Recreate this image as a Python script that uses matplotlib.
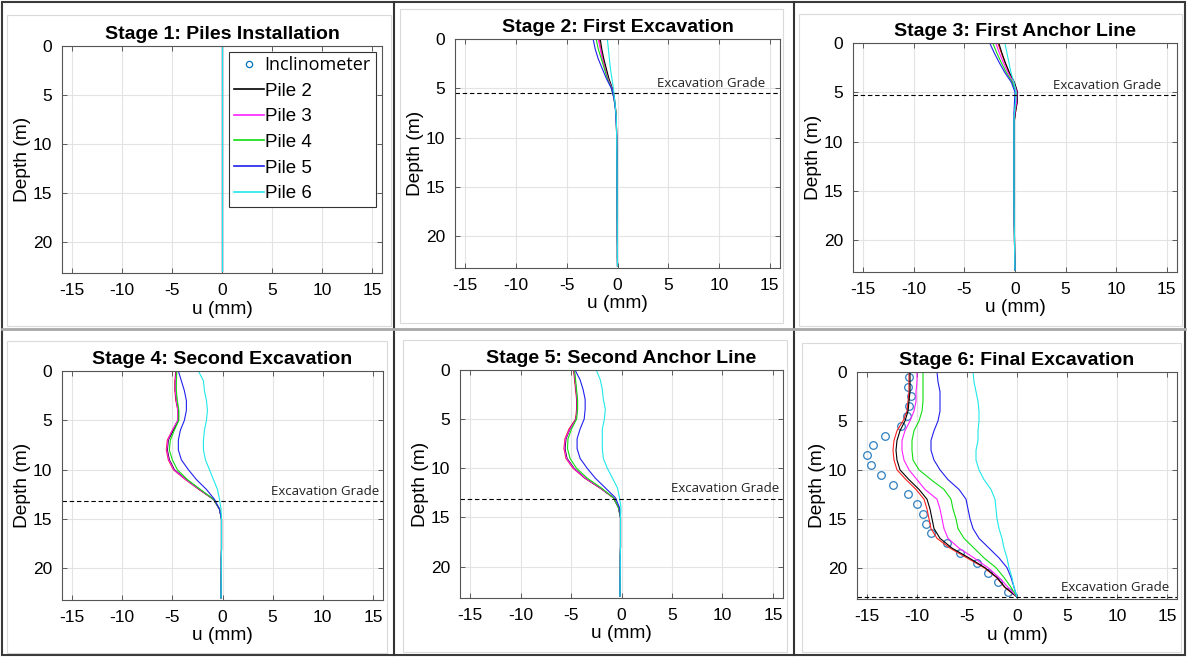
import matplotlib
matplotlib.use('Agg')
import matplotlib.pyplot as plt
from matplotlib.lines import Line2D
from matplotlib.patches import Rectangle

plt.rcParams['font.family'] = ['Liberation Sans', 'DejaVu Sans']
plt.rcParams['axes.unicode_minus'] = False

# ---- data -------------------------------------------------------------
depth = list(range(24))  # 0 .. 23 m

titles = ['Stage 1: Piles Installation', 'Stage 2: First Excavation',
          'Stage 3: First Anchor Line', 'Stage 4: Second Excavation',
          'Stage 5: Second Anchor Line', 'Stage 6: Final Excavation']
pile_labels = ['_nolegend_', 'Pile 2', 'Pile 3', 'Pile 4', 'Pile 5', 'Pile 6']
pile_colors = ['#ff2020', '#000000', '#ff20ff', '#10dd10', '#2020ee', '#20e8e8']

# excavation grade depth (m) for stages 2..6
grade_depth = [None, 5.5, 5.3, 13.2, 13.1, 23.0]

# stage 1: no displacement yet
zero = [0.0] * 24
stage1 = [zero, zero, zero, zero, zero, zero]

s2_tail = [-0.1, -0.08, -0.07, -0.06, -0.05, -0.05, -0.04, -0.04,
           -0.03, -0.03, -0.02, -0.02, -0.01, -0.01, 0.0]
stage2 = [
    [-1.8, -1.65, -1.45, -1.2, -0.9, -0.55, -0.35, -0.2, -0.12] + s2_tail,
    [-1.7, -1.55, -1.35, -1.1, -0.85, -0.5, -0.3, -0.2, -0.12] + s2_tail,
    [-1.9, -1.7, -1.5, -1.25, -0.95, -0.55, -0.35, -0.2, -0.12] + s2_tail,
    [-2.1, -1.9, -1.6, -1.3, -1.0, -0.6, -0.35, -0.2, -0.12] + s2_tail,
    [-2.4, -2.2, -1.9, -1.5, -1.1, -0.6, -0.35, -0.22, -0.15] + s2_tail,
    [-1.0, -0.9, -0.8, -0.7, -0.55, -0.4, -0.3, -0.2, -0.12] + s2_tail,
]

s3_tail = [-0.1, -0.1, -0.1, -0.1, -0.1, -0.1, -0.1, -0.08, -0.08,
           -0.06, -0.05, -0.04, -0.02, 0.0]
stage3 = [
    [-1.7, -1.35, -1.0, -0.6, -0.1, 0.25, 0.2, 0.05, -0.08, -0.1] + s3_tail,
    [-1.6, -1.3, -0.95, -0.55, -0.05, 0.25, 0.22, 0.05, -0.08, -0.1] + s3_tail,
    [-1.9, -1.55, -1.15, -0.7, -0.15, 0.2, 0.15, 0.0, -0.1, -0.1] + s3_tail,
    [-2.2, -1.8, -1.35, -0.85, -0.25, 0.1, 0.05, -0.05, -0.1, -0.1] + s3_tail,
    [-2.5, -2.05, -1.55, -1.0, -0.35, 0.0, -0.05, -0.1, -0.1, -0.1] + s3_tail,
    [-1.0, -0.8, -0.6, -0.4, -0.1, 0.1, 0.05, -0.05, -0.1, -0.1] + s3_tail,
]

deep_tail = [-0.1, -0.1, -0.1, -0.1, -0.12, -0.12, -0.13, -0.14, -0.15]
stage4 = [
    [-4.65, -4.75, -4.75, -4.65, -4.45, -4.45, -5.0, -5.5, -5.6, -5.4, -4.9, -3.7, -2.35, -0.9, -0.3] + deep_tail,
    [-4.6, -4.7, -4.7, -4.6, -4.4, -4.4, -4.9, -5.4, -5.5, -5.3, -4.8, -3.6, -2.3, -0.9, -0.3] + deep_tail,
    [-4.6, -4.7, -4.7, -4.6, -4.45, -4.45, -5.0, -5.45, -5.55, -5.35, -4.85, -3.65, -2.3, -0.9, -0.3] + deep_tail,
    [-4.55, -4.6, -4.6, -4.5, -4.35, -4.35, -4.8, -5.2, -5.3, -5.0, -4.5, -3.5, -2.2, -0.9, -0.3] + deep_tail,
    [-4.4, -4.1, -3.8, -3.6, -3.6, -3.8, -4.2, -4.4, -4.4, -4.1, -3.4, -2.6, -1.6, -0.8, -0.3] + deep_tail,
    [-2.4, -1.9, -1.8, -1.6, -1.5, -1.6, -1.8, -1.9, -1.9, -1.7, -1.3, -0.9, -0.5, -0.3, -0.15] + deep_tail,
]

stage5 = [
    [-4.75, -4.65, -4.55, -4.45, -4.45, -4.55, -5.2, -5.6, -5.7, -5.5, -4.8, -3.65, -2.15, -0.8, -0.3] + deep_tail,
    [-4.7, -4.6, -4.5, -4.4, -4.4, -4.5, -5.1, -5.5, -5.6, -5.4, -4.7, -3.6, -2.1, -0.8, -0.3] + deep_tail,
    [-4.7, -4.6, -4.5, -4.4, -4.4, -4.5, -5.1, -5.55, -5.65, -5.45, -4.75, -3.6, -2.1, -0.8, -0.3] + deep_tail,
    [-4.65, -4.55, -4.45, -4.35, -4.35, -4.45, -4.95, -5.3, -5.35, -5.1, -4.45, -3.4, -2.0, -0.8, -0.3] + deep_tail,
    [-4.6, -4.1, -3.8, -3.6, -3.6, -3.7, -4.1, -4.4, -4.4, -4.1, -3.4, -2.6, -1.6, -0.6, -0.2] + deep_tail,
    [-2.5, -2.1, -1.9, -1.8, -1.6, -1.7, -1.9, -1.9, -1.9, -1.8, -1.4, -0.9, -0.4, -0.2, -0.05] + deep_tail,
]

stage6 = [
    [-10.8, -10.8, -10.8, -10.9, -11.0, -11.4, -12.0, -12.3, -12.4, -12.3, -12.0, -11.1,
     -10.1, -9.3, -9.0, -8.8, -8.6, -8.0, -6.7, -5.0, -3.3, -2.05, -1.25, 0.0],
    [-10.7, -10.7, -10.7, -10.8, -10.9, -11.2, -11.7, -12.0, -12.1, -12.0, -11.7, -10.8,
     -9.8, -9.0, -8.7, -8.5, -8.3, -7.7, -6.5, -4.8, -3.2, -2.0, -1.2, 0.0],
    [-10.0, -10.0, -10.1, -10.1, -10.3, -10.7, -11.2, -11.5, -11.5, -11.3, -10.8, -10.0,
     -9.2, -8.0, -7.7, -7.5, -7.3, -6.9, -5.8, -4.3, -2.9, -1.8, -0.9, 0.0],
    [-9.4, -9.4, -9.4, -9.4, -9.5, -9.8, -10.3, -10.5, -10.5, -10.4, -9.8, -8.6,
     -7.3, -6.6, -6.4, -6.1, -5.9, -5.3, -4.3, -3.3, -2.1, -1.3, -0.6, 0.0],
    [-8.0, -7.9, -7.7, -7.7, -7.7, -7.9, -8.3, -8.6, -8.6, -8.3, -7.7, -6.9,
     -5.8, -5.1, -4.9, -4.7, -4.4, -3.8, -2.8, -1.8, -1.0, -0.6, -0.3, 0.0],
    [-4.4, -4.3, -4.1, -3.9, -3.8, -3.8, -3.9, -3.9, -4.1, -4.1, -3.8, -3.3,
     -2.6, -2.2, -2.1, -2.0, -1.8, -1.5, -1.3, -1.0, -0.8, -0.5, -0.3, 0.0],
]
stages = [stage1, stage2, stage3, stage4, stage5, stage6]

# inclinometer readings (final stage only)
incl_depth = [0.5, 1.5, 2.5, 3.5, 4.5, 5.5, 6.5, 7.5, 8.5, 9.5, 10.5, 11.5,
              12.5, 13.5, 14.5, 15.5, 16.5, 17.5, 18.5, 19.5, 20.5, 21.5, 22.5]
incl_u = [-10.8, -10.9, -10.6, -10.8, -11.0, -11.6, -13.2, -14.4, -15.0, -14.6, -13.6, -12.4,
          -10.9, -10.0, -9.4, -9.1, -8.6, -7.0, -5.7, -4.0, -2.9, -1.9, -0.9]

# ---- layout (pixels in the 1187x657 image) ------------------------------
W, H = 1187, 657
axes_px = [(62, 46, 382, 273), (455, 39, 780, 268), (853, 43, 1177, 272),
           (62, 371, 383, 600), (460, 370, 783, 598), (857, 372, 1177, 599)]
frames_px = [(7, 15, 391, 326), (400, 9, 783, 323), (799, 14, 1182, 326),
             (7, 341, 387, 653), (403, 340, 787, 652), (802, 343, 1181, 652)]
grade_text_x = [None, 14.5, 14.4, 15.6, 15.6, 15.2]

fig = plt.figure(figsize=(W / 100, H / 100), dpi=100)

# table-like cell borders
for (x0, y0, x1, y1) in frames_px:
    fig.add_artist(Rectangle((x0 / W, 1 - y1 / H), (x1 - x0) / W, (y1 - y0) / H,
                             transform=fig.transFigure, fill=False,
                             edgecolor='#dadada', lw=0.8))
fig.add_artist(Rectangle((2 / W, 2 / H), (W - 4) / W, (H - 4) / H, transform=fig.transFigure,
                         fill=False, edgecolor='#3a3a3a', lw=1.5))
for xv in [394, 794]:
    fig.add_artist(Line2D([xv / W, xv / W], [2 / H, 1 - 2 / H], transform=fig.transFigure,
                          color='#333333', lw=1.5))
fig.add_artist(Line2D([2 / W, 1 - 2 / W], [1 - 329 / H, 1 - 329 / H], transform=fig.transFigure,
                      color='#a8a8a8', lw=2))

for i, (x0, y0, x1, y1) in enumerate(axes_px):
    ax = fig.add_axes([x0 / W, 1 - y1 / H, (x1 - x0) / W, (y1 - y0) / H])

    if i == 0:
        ax.plot([], [], 'o', mfc='none', mec='#0072BD', ms=4.5, mew=0.9, label='Inclinometer')
    if i == 5:
        ax.plot(incl_u, incl_depth, 'o', mfc='none', mec='#2f80c0', ms=5.5, mew=0.9)

    for vals, col, lab in zip(stages[i], pile_colors, pile_labels):
        ax.plot(vals, depth, color=col, lw=0.8, label=lab)

    if grade_depth[i] is not None:
        ax.axhline(grade_depth[i], color='black', lw=0.8, ls=(0, (4, 2.5)))
        ax.text(grade_text_x[i], grade_depth[i] - 0.35, 'Excavation Grade', ha='right', va='bottom',
                fontsize=9.5, family=['Open Sans', 'DejaVu Sans'], color='#222222')

    ax.set_xlim(-16, 16)
    ax.set_ylim(23.2, 0)
    ax.set_xticks([-15, -10, -5, 0, 5, 10, 15])
    ax.set_yticks([0, 5, 10, 15, 20])
    ax.grid(True, color='#e3e3e3', lw=0.8)
    ax.set_axisbelow(True)
    ax.tick_params(direction='in', top=True, right=True, length=3.5, width=0.6,
                   color='#444444', labelsize=12.5, pad=7)
    for sp in ax.spines.values():
        sp.set_color('#555555')
        sp.set_linewidth(0.8)
    ax.set_xlabel('u (mm)', fontsize=13.8, labelpad=2)
    ax.set_ylabel('Depth (m)', fontsize=13.8, labelpad=1)
    ax.set_title(titles[i], fontsize=14, fontweight='bold', pad=5)

    if i == 0:
        leg = ax.legend(loc='upper right', bbox_to_anchor=(0.98, 0.975), fontsize=13.5,
                        fancybox=False, framealpha=1, edgecolor='#333333',
                        handlelength=1.6, handletextpad=0.05, labelspacing=0.45,
                        borderpad=0.25, borderaxespad=0)
        leg.get_frame().set_linewidth(0.8)
        leg.get_texts()[0].set_family(['Open Sans', 'DejaVu Sans'])
        leg.get_texts()[0].set_fontsize(13)
        for hl in leg.get_lines()[1:]:
            hl.set_linewidth(1.2)

fig.savefig('out.png', dpi=100)
